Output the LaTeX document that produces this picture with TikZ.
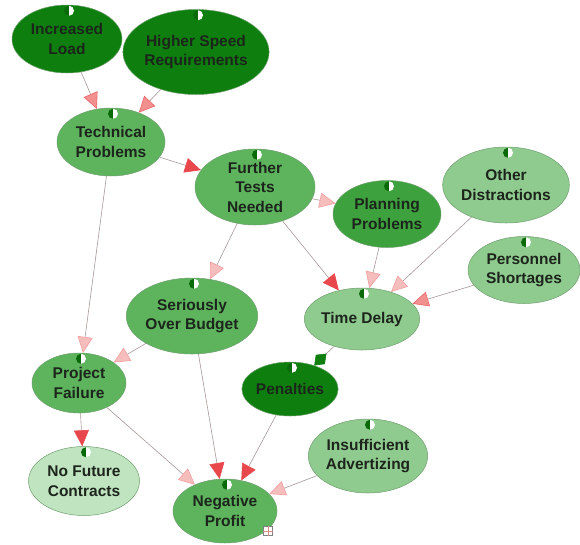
\documentclass[tikz,border=0pt]{standalone}
\usepackage{fontspec}
\setmainfont{Liberation Sans}
\usepackage{tikz}
\usetikzlibrary{shapes,arrows.meta}
\definecolor{dunkelgruen}{HTML}{0E7F0E}
\definecolor{mittelgruen}{HTML}{5DB45D}
\definecolor{plangruen}{HTML}{3DA23D}
\definecolor{hellgruen}{HTML}{8FCB8F}
\definecolor{blassgruen}{HTML}{C0E4C0}
\definecolor{randgruen}{HTML}{6E9E6E}
\definecolor{textfarbe}{HTML}{1C241C}
\definecolor{linienfarbe}{HTML}{A89898}
\definecolor{pfeilrosa}{HTML}{F6BDBD}
\definecolor{pfeillachs}{HTML}{F29090}
\definecolor{pfeilrot}{HTML}{E8474B}
\definecolor{iconfarbe}{HTML}{0A6A0A}

\tikzset{
  knoten/.style={ellipse, draw=randgruen, line width=0.5pt, inner sep=0pt,
    text=textfarbe, align=center,
    font=\fontsize{15.5pt}{19.5pt}\selectfont\bfseries},
  kante/.style={draw=linienfarbe, line width=0.6pt},
  rosa/.style={kante, -{Triangle[length=16pt,width=15pt,fill=pfeilrosa,color=pfeillachs!70!pfeilrosa]}},
  lachs/.style={kante, -{Triangle[length=16pt,width=15pt,fill=pfeillachs,color=pfeilrot!60!pfeillachs]}},
  rot/.style={kante, -{Triangle[length=16pt,width=15pt,fill=pfeilrot,color=pfeilrot]}},
  raute/.style={kante, -{Diamond[length=17pt,width=13pt,fill=dunkelgruen,color=dunkelgruen]}}
}

\begin{document}
\begin{tikzpicture}[x=1pt, y=-1pt]
\useasboundingbox[fill=white] (0,0) rectangle (580,544);

% Knoten
\node[knoten, fill=dunkelgruen, minimum width=110, minimum height=68] (il) at (67,39) {Increased\\Load};
\node[knoten, fill=dunkelgruen, minimum width=137, minimum height=85] (hs) at (196,52) {Higher Speed\\Requirements};
\node[knoten, fill=mittelgruen, minimum width=108, minimum height=68] (tp) at (111,142) {Technical\\Problems};
\node[knoten, fill=mittelgruen, minimum width=120, minimum height=76] (ft) at (255,187) {Further\\Tests\\Needed};
\node[knoten, fill=plangruen, minimum width=108, minimum height=67] (pp) at (387,214) {Planning\\Problems};
\node[knoten, fill=hellgruen, minimum width=123, minimum height=76] (od) at (506,185) {Other\\Distractions};
\node[knoten, fill=hellgruen, minimum width=112, minimum height=67] (ps) at (524,270) {Personnel\\Shortages};
\node[knoten, fill=hellgruen, minimum width=100, minimum height=62] (td) at (362,319) {Time Delay};
\node[knoten, fill=mittelgruen, minimum width=130, minimum height=76] (sob) at (192,316) {Seriously\\Over Budget};
\node[knoten, fill=mittelgruen, minimum width=94, minimum height=60] (pf) at (79,383) {Project\\Failure};
\node[knoten, fill=dunkelgruen, minimum width=88, minimum height=54] (pen) at (290,389) {Penalties};
\node[knoten, fill=blassgruen, minimum width=111, minimum height=69] (nfc) at (84,481) {No Future\\Contracts};
\node[knoten, fill=mittelgruen, minimum width=104, minimum height=64] (np) at (225,511) {Negative\\Profit};
\node[knoten, fill=hellgruen, minimum width=119, minimum height=74] (ia) at (368,456) {Insufficient\\Advertizing};

% Kanten
\draw[lachs] (il) -- (tp);
\draw[lachs] (hs) -- (tp);
\draw[rot] (tp) -- (ft);
\draw[rosa] (ft) -- (pp);
\draw[rosa] (ft) -- (sob);
\draw[rot] (ft) -- (td);
\draw[rosa] (pp) -- (td);
\draw[rosa] (od) -- (td);
\draw[lachs] (ps) -- (td);
\draw[rosa] (tp) -- (pf);
\draw[rosa] (sob) -- (pf);
\draw[rot] (pf) -- (nfc);
\draw[rosa] (pf) -- (np);
\draw[rot] (sob) -- (np);
\draw[rot] (pen) -- (np);
\draw[rosa] (ia) -- (np);
\draw[raute] (td) -- (pen);

% Halbkreise oben an den Knoten
\foreach \n in {il,hs,tp,ft,pp,od,ps,td,sob,pf,pen,nfc,np,ia}
{
  \begin{scope}[shift={(\n.north)}, shift={(2,6)}]
    \fill[iconfarbe] (0,5) arc (90:270:5) -- cycle;
    \fill[white] (0,5) arc (90:-90:5) -- cycle;
  \end{scope}
}

% kleines Symbol an Negative Profit
\node[draw=gray, fill=white, line width=0.4pt, minimum size=9, inner sep=0pt] (npicon) at (268,531) {};
\draw[pfeillachs!80!gray, line width=0.8pt] (npicon.north) -- (npicon.south) (npicon.west) -- (npicon.east);
\end{tikzpicture}
\end{document}
